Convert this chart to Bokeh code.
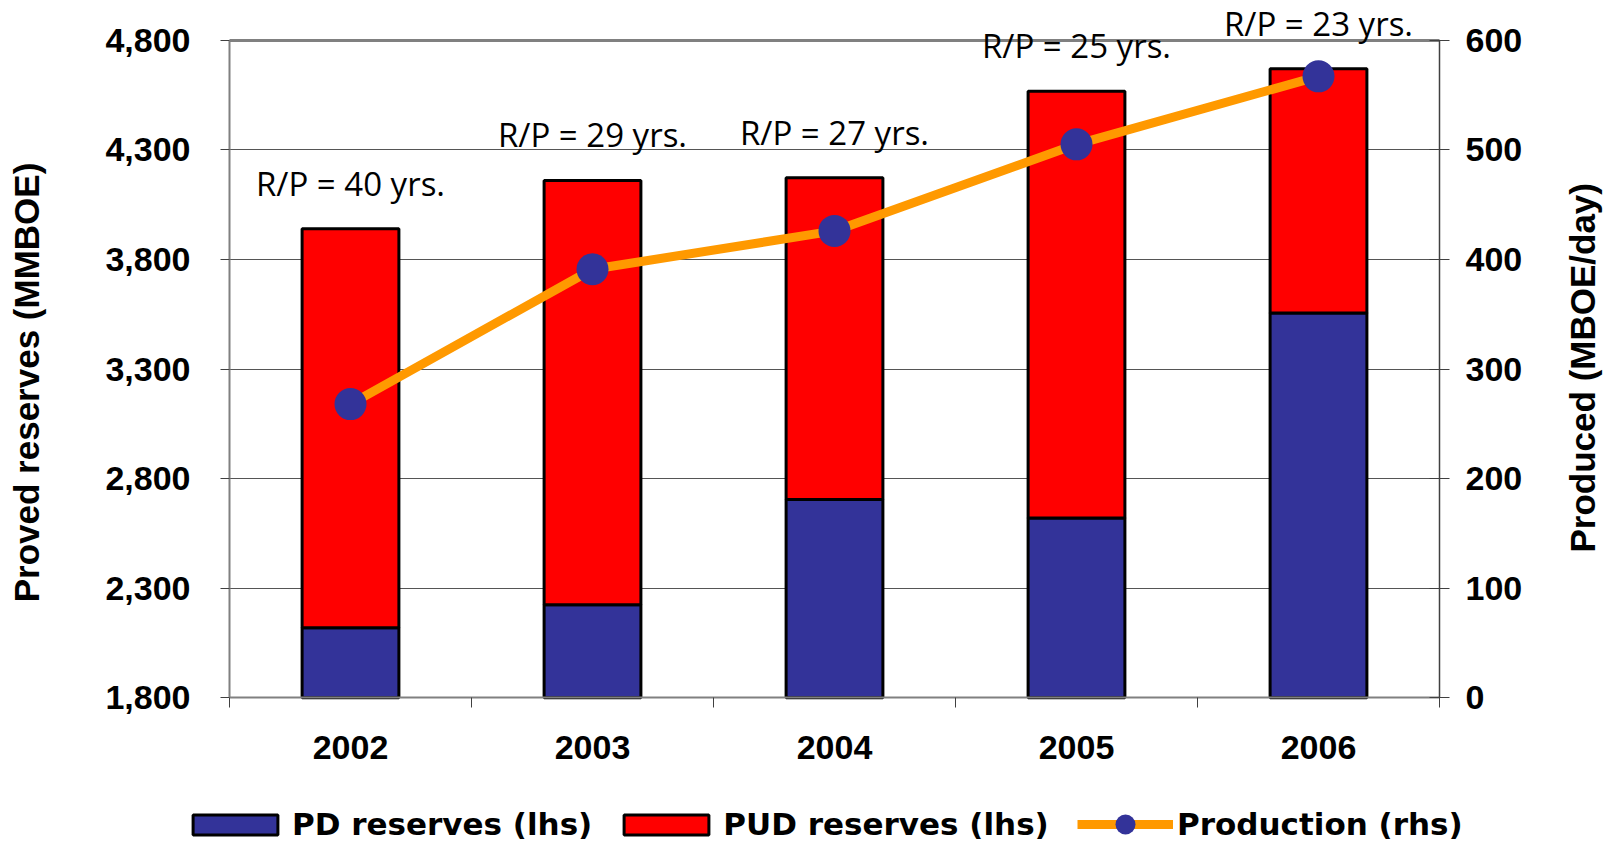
import numpy as np
from bokeh.plotting import figure
from bokeh.models import (ColumnDataSource, LinearAxis, Range1d, FixedTicker, Grid,
                          NumeralTickFormatter, Legend, LegendItem, LabelSet)
from bokeh.embed import file_html
from bokeh.resources import INLINE
from bokeh.core.properties import value

# ---- data ----
years = ["2002", "2003", "2004", "2005", "2006"]
pd_reserves = [2120, 2225, 2705, 2620, 3555]      # MMBOE (PD, lhs)
pud_reserves = [1820, 1935, 1467, 1947, 1115]     # MMBOE (PUD, lhs)
production = [268, 391, 426, 505, 567]            # MBOE/day (rhs)
rp_labels = ["R/P = 40 yrs.", "R/P = 29 yrs.", "R/P = 27 yrs.",
             "R/P = 25 yrs.", "R/P = 23 yrs."]
left_ticks = [1800, 2300, 2800, 3300, 3800, 4300, 4800]
right_ticks = [0, 100, 200, 300, 400, 500, 600]

x = np.arange(len(years)) + 0.5
total = np.array(pd_reserves) + np.array(pud_reserves)
y_lo, y_hi = left_ticks[0], left_ticks[-1]
r_lo, r_hi = right_ticks[0], right_ticks[-1]
src = ColumnDataSource(dict(x=x, pd=pd_reserves, pud=pud_reserves, total=total,
                            base=[y_lo] * len(years), prod=production, label=rp_labels))

# ---- layout: plot-area box inside the canvas (px) ----
W, H = 1604, 842
FL, FR, FT, FB = 229, 1439, 39.7, 697.3
RT_START = 552          # px where the right-hand title starts (it reads upwards)
LT_CENTER = 382         # px of the centre of the left-hand title
xs = (FR - FL) / len(years)
ys = (FB - FT) / (y_hi - y_lo)
rs = (FB - FT) / (r_hi - r_lo)

TICK_FONT = "Liberation Sans"

p = figure(width=W, height=H, output_backend="svg", toolbar_location=None,
           x_range=Range1d(-FL / xs, len(years) + (W - FR) / xs),
           y_range=Range1d(y_lo - (H - FB) / ys, y_hi + FT / ys),
           min_border=0, min_border_left=0, min_border_right=0,
           min_border_top=0, min_border_bottom=0)
p.extra_y_ranges = {"prod": Range1d(r_lo - (H - FB) / rs, r_hi + FT / rs)}
p.outline_line_color = None
p.xgrid.visible = False
p.ygrid.visible = False

# grid lines (restricted to the plot area)
has_cb = "cross_bounds" in Grid.properties()
if has_cb:
    g = Grid(dimension=1, ticker=FixedTicker(ticks=left_ticks[1:-1]), cross_bounds=(0, len(years)),
             grid_line_color="#555555", grid_line_width=1)
    p.add_layout(g)
    gt = Grid(dimension=1, ticker=FixedTicker(ticks=[y_hi]), cross_bounds=(0, len(years)),
              grid_line_color="#808080", grid_line_width=3)
    p.add_layout(gt)
else:
    gy = left_ticks[1:-1]
    p.segment(x0=[0] * len(gy), x1=[len(years)] * len(gy), y0=gy, y1=gy,
              line_color="#555555", line_width=1)
    p.segment(x0=[0], x1=[len(years)], y0=[y_hi], y1=[y_hi], line_color="#808080", line_width=3)

# bars (stacked)
r_pd = p.vbar(x="x", bottom="base", top="pd", width=0.4, source=src,
              fill_color="#333399", line_color="black", line_width=3)
r_pud = p.vbar(x="x", bottom="pd", top="total", width=0.4, source=src,
               fill_color="#FF0000", line_color="black", line_width=3)

# production line
r_line = p.line(x="x", y="prod", source=src, y_range_name="prod",
                line_color="#FF9900", line_width=9)
r_dot = p.scatter(x="x", y="prod", source=src, y_range_name="prod", marker="circle",
                  size=32, fill_color="#333399", line_color=None)

# R/P annotations
labels = LabelSet(x="x", y="total", text="label", source=src, y_offset=33,
                  text_align="center", text_baseline="alphabetic",
                  text_font=value("Open Sans"), text_font_size="33px", text_color="black")
p.add_layout(labels)


def style_ticks(a, tick_out, tick_in, standoff):
    a.major_label_text_font = TICK_FONT
    a.major_label_text_font_style = "bold"
    a.major_label_text_font_size = "34px"
    a.major_label_text_color = "black"
    a.major_tick_in = tick_in
    a.major_tick_out = tick_out
    a.major_tick_line_color = "#404040"
    a.minor_tick_line_color = None
    a.major_label_standoff = standoff


def style_title(a, text, standoff):
    a.axis_line_color = None
    a.major_tick_line_color = None
    a.major_label_text_alpha = 0
    a.axis_label = text
    a.axis_label_text_font = TICK_FONT
    a.axis_label_text_font_style = "bold"
    a.axis_label_text_font_size = "35px"
    a.axis_label_text_color = "black"
    a.axis_label_standoff = standoff


# left axis
yax = p.yaxis[0]
yax.fixed_location = 0
yax.ticker = FixedTicker(ticks=left_ticks)
yax.bounds = (y_lo, y_hi)
yax.formatter = NumeralTickFormatter(format="0,0")
style_ticks(yax, 9, 0, 30)
yax.axis_line_color = "#808080"
yax.axis_line_width = 2

# left axis title (centred at LT_CENTER)
l_anchor = y_lo + (FB - LT_CENTER) / ys
lax = LinearAxis(ticker=FixedTicker(ticks=left_ticks), bounds=(y_lo, 2 * l_anchor - y_lo),
                 fixed_location=0, formatter=NumeralTickFormatter(format="0,0"))
style_ticks(lax, 9, 0, 30)
style_title(lax, "Proved reserves (MMBOE)", 175)
p.add_layout(lax, "left")

# bottom axis
xax = p.xaxis[0]
xax.fixed_location = y_lo
xax.bounds = (0, len(years))
xax.ticker = FixedTicker(ticks=list(x), minor_ticks=list(range(len(years) + 1)))
xax.major_label_overrides = {float(xi): yr for xi, yr in zip(x, years)}
style_ticks(xax, 0, 0, 28)
xax.minor_tick_in = 0
xax.minor_tick_out = 10
xax.minor_tick_line_color = "#404040"
xax.axis_line_color = "#808080"
xax.axis_line_width = 2

# right axis (ticks and labels)
rax = LinearAxis(y_range_name="prod", ticker=FixedTicker(ticks=right_ticks),
                 bounds=(r_lo, r_hi), fixed_location=len(years))
style_ticks(rax, 10, 10, 16)
rax.axis_line_color = "#404040"
rax.axis_line_width = 1.5
p.add_layout(rax, "right")

# right axis title, reading upwards from RT_START
t_anchor = r_lo + (FB - RT_START) / rs
tax = LinearAxis(y_range_name="prod", ticker=FixedTicker(ticks=right_ticks),
                 bounds=(r_lo, 2 * t_anchor - r_lo), fixed_location=len(years))
style_ticks(tax, 10, 10, 16)
style_title(tax, "Produced (MBOE/day)", 133)
if "axis_label_orientation" in tax.properties():
    tax.axis_label_orientation = np.pi / 2
p.add_layout(tax, "right")

# legends
common = dict(orientation="horizontal", padding=0, margin=0, border_line_color=None,
              background_fill_alpha=0, label_standoff=4,
              label_text_font="DejaVu Sans", label_text_font_style="bold",
              label_text_font_size="31px", label_text_color="black")
legend1 = Legend(items=[LegendItem(label="PD reserves (lhs)", renderers=[r_pd]),
                        LegendItem(label="PUD reserves (lhs)", renderers=[r_pud])],
                 location=(182, 0), glyph_width=106, glyph_height=25, spacing=21, **common)
p.add_layout(legend1)
legend2 = Legend(items=[LegendItem(label="Production (rhs)", renderers=[r_line, r_dot])],
                 location=(1077, -7), glyph_width=96, glyph_height=50, **common)
p.add_layout(legend2)

open("out.html", "w").write(file_html(p, INLINE))
